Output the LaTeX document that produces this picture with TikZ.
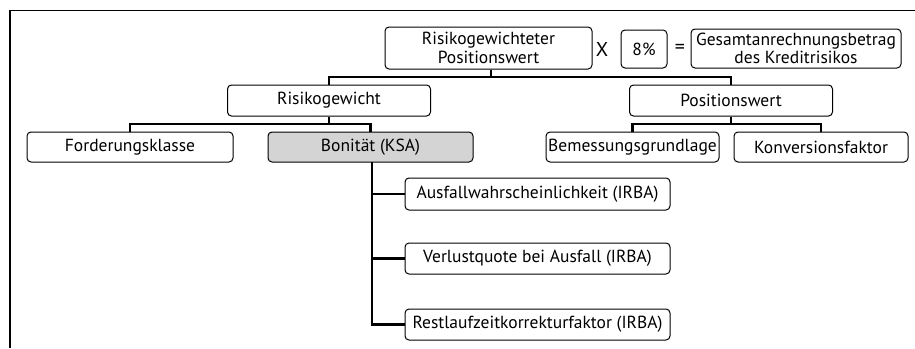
\documentclass[tikz,border=0pt]{standalone}
\usepackage{fontspec}
\setmainfont{PT Sans}
\begin{document}
\begin{tikzpicture}[x=1pt,y=-1pt,
  box/.style={draw=black, line width=1pt, rounded corners=4pt, fill=white, inner sep=0pt, align=center, font=\fontsize{17.5}{18.5}\selectfont},
  conn/.style={line width=2.8pt},
  frame/.style={line width=1.2pt}]
\useasboundingbox (0,0) rectangle (915,348);
\draw[frame] (10,348) -- (10,10.5) -- (915,10.5);
% top row
\node[box, minimum width=207pt, minimum height=42pt] (rwp) at (488.5,48) {Risikogewichteter\\Positionswert};
\node[font=\fontsize{20}{20}\selectfont, inner sep=0pt] (x) at (602,49) {X};
\node[box, minimum width=46pt, minimum height=38pt] (pct) at (644,49) {8\%};
\node[font=\fontsize{20}{20}\selectfont, inner sep=0pt] (eq) at (680,49) {=};
\node[box, minimum width=210pt, minimum height=39pt] (ges) at (796,48.5) {Gesamtanrechnungsbetrag\\des Kreditrisikos};
% second row
\node[box, minimum width=203pt, minimum height=31pt] (rg) at (329,100.5) {Risikogewicht};
\node[box, minimum width=203pt, minimum height=31pt] (pw) at (731,100.5) {Positionswert};
% third row
\node[box, minimum width=206pt, minimum height=30pt] (fk) at (130,147) {Forderungsklasse};
\node[box, minimum width=205pt, minimum height=30pt, fill=black!17] (bon) at (370.5,147) {Bonität (KSA)};
\node[box, minimum width=173pt, minimum height=30pt] (bem) at (632.5,147) {Bemessungsgrundlage};
\node[box, minimum width=174pt, minimum height=30pt] (kon) at (821,147) {Konversionsfaktor};
% IRBA boxes
\node[box, minimum width=265pt, minimum height=32pt] (ausf) at (537.5,194) {Ausfallwahrscheinlichkeit (IRBA)};
\node[box, minimum width=265pt, minimum height=31pt] (verl) at (537.5,258.5) {Verlustquote bei Ausfall (IRBA)};
\node[box, minimum width=265pt, minimum height=31pt] (rest) at (537.5,324.5) {Restlaufzeitkorrekturfaktor (IRBA)};
% connectors
\coordinate (j1) at (491,77);
\draw[conn] (rwp.south -| j1) -- (j1);
\draw[conn] (rg.north) -- (rg.north |- j1) -- (pw.north |- j1) -- (pw.north);
\coordinate (j2) at (329,124);
\draw[conn] (rg.south) -- (j2);
\draw[conn] (fk.north) -- (fk.north |- j2) -- (bon.north |- j2) -- (bon.north);
\coordinate (j3) at (731,124);
\draw[conn] (pw.south) -- (j3);
\draw[conn] (bem.north) -- (bem.north |- j3) -- (kon.north |- j3) -- (kon.north);
\coordinate (b0) at (372,162);
\draw[conn] (b0) -- (b0 |- rest.west) -- (rest.west);
\draw[conn] (b0 |- ausf.west) -- (ausf.west);
\draw[conn] (b0 |- verl.west) -- (verl.west);
\end{tikzpicture}
\end{document}
